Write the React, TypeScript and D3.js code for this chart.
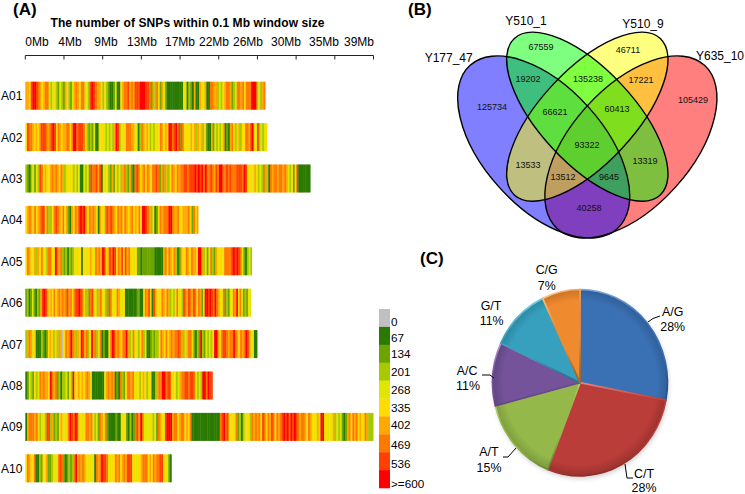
import React from "react";
import * as d3 from "d3";

const legendValues = [0, 67, 134, 201, 268, 335, 402, 469, 536, 600];
const legendLabels = ["0", "67", "134", "201", "268", "335", "402", "469", "536", ">=600"];
const legendColors = ["#c0c0c0", "#2a7a00", "#6ca400", "#a8c800", "#e0e600", "#ffdc00", "#ffa800", "#ff7800", "#ff4000", "#ff0000"];

const chromNames = ["A01", "A02", "A03", "A04", "A05", "A06", "A07", "A08", "A09", "A10"];
const chromLengths = [26.9, 27.1, 31.95, 19.4, 25.4, 25.3, 26.0, 21.0, 39.0, 16.4];

// SNP-density class per window of about 0.2 Mb, index into legendValues
const A01 = "665899876567743453243265324676577543898766" + "43532112411" + "5677867688" + "899988" + "7263752642" + "111111111" + "54" + "1321611" + "65461" + "17" + "766343567762" + "3477675777" + "999" + "34367";
const A02 = "587765656888767898576566775799788875323241145543434369835457776654137656534354576565997897827554565636563521162434356121675346355776895483434 5".replace(" ", "");
const A03 = "321" + "34253" + "87" + "56456" + "7676576" + "345453534" + "11" + "4352" + "87" + "7868" + "1" + "5453" + "262535367326" + "21" + "787" + "56757657" + "787" + "26" + "7363" + "5765767" + "7887888" + "9898979" + "7787687" + "99" + "77878777" + "888798" + "455465" + "343736" + "1" + "7677677" + "676435258" + "1111111";
const A04 = "567657567" + "88" + "473357" + "87" + "65756" + "21" + "6576" + "8989" + "6576765" + "1" + "6547" + "8787" + "6576757656756575" + "99" + "87635" + "12" + "576777" + "99" + "7667" + "55666" + "752756";
const A05 = "5765463657543" + "77" + "54" + "9" + "767" + "3231323" + "5455" + "1" + "5545654" + "7676" + "98" + "56" + "8798" + "576858675" + "545" + "22122" + "22222" + "11111" + "6757657" + "312" + "65" + "57657665" + "99" + "635247326" + "5545" + "7777" + "89898" + "74" + "21" + "343";
const A06 = "231242132" + "6898" + "656575" + "6767" + "67867578" + "8987" + "53627" + "8543675437" + "27" + "54576545" + "11111112211" + "57685" + "18" + "645" + "576576" + "34357453" + "8768" + "7687576" + "24" + "9989" + "8797" + "6547" + "2324" + "576957" + "423254";
const A07 = "367645" + "111" + "3212" + "565" + "34636" + "0" + "5767" + "9" + "76365" + "98" + "6735" + "9" + "67347" + "1211" + "57" + "98" + "676577" + "9" + "6347" + "5435734" + "11" + "232335" + "76575676" + "7787" + "6346775" + "2132" + "9" + "3243435" + "99" + "657" + "88" + "7677" + "9" + "765767" + "98" + "654" + "11";
const A08 = "12432" + "534767665" + "9" + "767" + "2313" + "34253" + "9" + "5565656765" + "1111111" + "467676" + "121" + "7325" + "77675" + "453" + "565345" + "11" + "3677" + "99" + "78" + "85" + "453467" + "7887887" + "4343" + "99" + "7988";
const A09 = "1" + "677767" + "53453" + "88" + "362325" + "65457" + "98" + "7985" + "5457" + "7675" + "342" + "76472" + "1111211" + "545" + "21312" + "78697" + "444543" + "427654" + "8999" + "677567" + "75657" + "1111111111111111" + "78978" + "4554" + "72313" + "455376" + "767587" + "576875767" + "898979898" + "76776576" + "55464" + "99" + "55454" + "634342" + "12" + "675767565476" + "333";
const A10 = "576557" + "11" + "32556" + "22" + "3454" + "787" + "212" + "3237" + "9" + "67676" + "54545" + "1" + "767" + "9" + "887" + "5455" + "767" + "5676" + "888" + "554556" + "777" + "56576" + "7788" + "554" + "21";
const chromLevels = [A01, A02, A03, A04, A05, A06, A07, A08, A09, A10];

const mbTicks = d3.range(0, 10).map((i) => (i * 39) / 9);
const mbLabels = ["0Mb", "4Mb", "9Mb", "13Mb", "17Mb", "22Mb", "26Mb", "30Mb", "35Mb", "39Mb"];
const mbLabelX = [37, 70, 106, 142, 180, 214, 248, 286, 324, 359];

const pieLabels = ["A/G", "C/T", "A/T", "A/C", "G/T", "C/G"];
const pieValues = [28, 28, 15, 11, 11, 7];
const pieColors = ["#3a70b4", "#ba3d39", "#94b84a", "#74539a", "#37a0be", "#f08a2e"];
const pieLight = ["#7fa8de", "#e58a84", "#d2ea8e", "#ae96cc", "#7ad8ee", "#fcc488"];
const pieDark = ["#2a5385", "#862a27", "#6d8a35", "#543b72", "#277890", "#b06620"];
const piePos: [number, number, number, number][] = [
  [672.7, 312, 672.7, 327], [644, 474, 644, 487.5], [489, 452, 489, 468], [467, 371, 468, 386], [491, 306, 491.7, 321], [546.7, 270, 546.7, 286],
];
const leaders = [
  "M648,322 Q652,318 660,316",
  "M625,464 L627,478 L633,478",
  "M516,448 L508,457 L503,457",
  "M482,375 L490,375 L494,378",
];

const setNames = ["Y177_47", "Y510_1", "Y510_9", "Y635_10"];
const setColors = ["#0000ff", "#00ff00", "#ffff00", "#ff0000"];
const setLabelPos = [[448.7, 57], [526, 20], [643, 23], [720, 55]];
const vennCounts = [67559, 46711, 19202, 135238, 17221, 125734, 66621, 60413, 105429, 93322, 13533, 13319, 13512, 9645, 40258];
const vennCountPos = [[541, 47], [628, 50], [528, 79], [588, 79], [641, 80], [492, 107], [555, 112], [617, 109], [693, 100], [587, 145], [528, 165], [645, 161], [563, 177], [609, 177], [589, 208]];

const ellipses = [
  { cx: 543.7, cy: 147, a: 110, b: 60, r: 48 },
  { cx: 587.3, cy: 116.7, a: 107, b: 47, r: 47 },
  { cx: 587.3, cy: 116.7, a: 107, b: 47, r: -47 },
  { cx: 630.9, cy: 147, a: 110, b: 60, r: -48 },
];
const drawOrder = [3, 0, 2, 1];

const ff = "'Liberation Sans', Arial, sans-serif";

export default function App() {
  const x = d3.scaleLinear().domain([0, 39]).range([25.3, 373.5]);
  const rowY = d3.scaleBand<string>().domain(chromNames).range([81.7, 81.7 + 41.4 * 10]);
  const barH = 28;
  const legendY = d3.scaleBand<number>().domain(legendValues).range([309, 488]);
  const legendLabelY = [326, 342, 358, 376, 394, 412, 429, 449, 468, 488];
  const arcs = d3.pie<number>().sort(null).startAngle(0).endAngle(2 * Math.PI)(pieValues);
  const rr = 87.5;
  const arc = d3.arc<any>().innerRadius(0).outerRadius(rr);
  const mix = (a: string, b: string, t: number) => d3.interpolateRgb(a, b)(t);
  return (
    <svg width={745} height={494} style={{ position: "absolute", left: 0, top: 0, background: "#fff" }} fontFamily={ff}>
      <defs>
        <filter id="soft" x="-2%" y="-10%" width="104%" height="120%">
          <feGaussianBlur stdDeviation="0.45" />
        </filter>
        <filter id="pshadow" x="-10%" y="-10%" width="120%" height="120%">
          <feGaussianBlur stdDeviation="2" />
        </filter>
        {pieColors.map((c, i) => (
          <radialGradient key={i} id={`pg${i}`} gradientUnits="userSpaceOnUse" cx={0} cy={0} r={rr}>
            <stop offset="0" stopColor={c} />
            <stop offset="0.88" stopColor={c} />
            <stop offset="1" stopColor={mix(c, pieDark[i], 0.6)} />
          </radialGradient>
        ))}
        {pieColors.map((c, i) => (
          <linearGradient key={i} id={`ps${i}`} x1="0.2" y1="0" x2="0.5" y2="1">
            <stop offset="0" stopColor={pieLight[i]} />
            <stop offset="0.4" stopColor={c} />
            <stop offset="0.7" stopColor={c} />
            <stop offset="1" stopColor={pieDark[i]} />
          </linearGradient>
        ))}
      </defs>

      {/* Panel A */}
      <text x={13} y={15.4} fontSize={17} fontWeight="bold">(A)</text>
      <text x={50.5} y={27} fontSize={12} fontWeight="bold" textLength={274}>The number of SNPs within 0.1 Mb window size</text>
      {mbLabels.map((l, i) => (
        <text key={l} x={mbLabelX[i]} y={46} fontSize={12} textAnchor="middle">{l}</text>
      ))}
      <line x1={x(0)} x2={x(39)} y1={55.5} y2={55.5} stroke="#222" strokeWidth={1} />
      {mbTicks.map((t, i) => (
        <line key={i} x1={x(t)} x2={x(t)} y1={55.5} y2={59.5} stroke="#222" strokeWidth={1} />
      ))}
      {chromNames.map((name, r) => {
        const levels = Array.from(chromLevels[r], (ch) => +ch);
        const win = d3.scaleLinear().domain([0, levels.length]).range([0, chromLengths[r]]);
        const y = rowY(name)!;
        return (
          <g key={name}>
            <text x={1} y={y + 18.5} fontSize={12}>{name}</text>
            <g filter="url(#soft)">
              {levels.map((lv, i) => (
                <rect key={i} x={x(win(i))} y={y} width={x(win(i + 1)) - x(win(i)) + (i < levels.length - 1 ? 0.4 : 0)} height={barH} fill={legendColors[lv]} />
              ))}
            </g>
          </g>
        );
      })}

      {/* Legend */}
      {legendValues.map((v, i) => (
        <rect key={v} x={379} y={legendY(v)!} width={11} height={legendY.bandwidth() + 0.3} fill={legendColors[i]} />
      ))}
      {legendLabels.map((l, i) => (
        <text key={l} x={391} y={legendLabelY[i]} fontSize={11.7}>{l}</text>
      ))}

      {/* Panel B */}
      <text x={408} y={15.4} fontSize={17} fontWeight="bold">(B)</text>
      {drawOrder.map((i) => {
        const e = ellipses[i];
        return <ellipse key={i} cx={e.cx} cy={e.cy} rx={e.a} ry={e.b} transform={`rotate(${e.r} ${e.cx} ${e.cy})`} fill={setColors[i]} fillOpacity={0.5} />;
      })}
      {drawOrder.map((i) => {
        const e = ellipses[i];
        return <ellipse key={i} cx={e.cx} cy={e.cy} rx={e.a} ry={e.b} transform={`rotate(${e.r} ${e.cx} ${e.cy})`} fill="none" stroke="#000" strokeWidth={1.4} />;
      })}
      {setNames.map((n, i) => (
        <text key={n} x={setLabelPos[i][0]} y={setLabelPos[i][1] + 4.5} fontSize={12} textAnchor="middle">{n}</text>
      ))}
      {vennCounts.map((c, i) => (
        <text key={c} x={vennCountPos[i][0]} y={vennCountPos[i][1] + 3.2} fontSize={9} textAnchor="middle" fill="#111">{c}</text>
      ))}

      {/* Panel C */}
      <text x={420} y={264} fontSize={17} fontWeight="bold">(C)</text>
      <ellipse cx={581} cy={385} rx={88} ry={94} fill="#888" opacity={0.35} filter="url(#pshadow)" />
      <g transform="translate(580,382.7) scale(1,1.065)">
        {arcs.map((a, i) => (
          <path key={i} d={arc(a)!} fill={`url(#pg${i})`} stroke={`url(#ps${i})`} strokeWidth={1.6} strokeLinejoin="round" />
        ))}
      </g>
      {leaders.map((d, i) => (
        <path key={i} d={d} fill="none" stroke="#000" strokeWidth={1} />
      ))}
      {pieLabels.map((l, i) => (
        <g key={l}>
          <text x={piePos[i][0]} y={piePos[i][1] + 4} fontSize={12.4} textAnchor="middle">{l}</text>
          <text x={piePos[i][2]} y={piePos[i][3] + 4} fontSize={12.4} textAnchor="middle">{pieValues[i]}%</text>
        </g>
      ))}
    </svg>
  );
}
